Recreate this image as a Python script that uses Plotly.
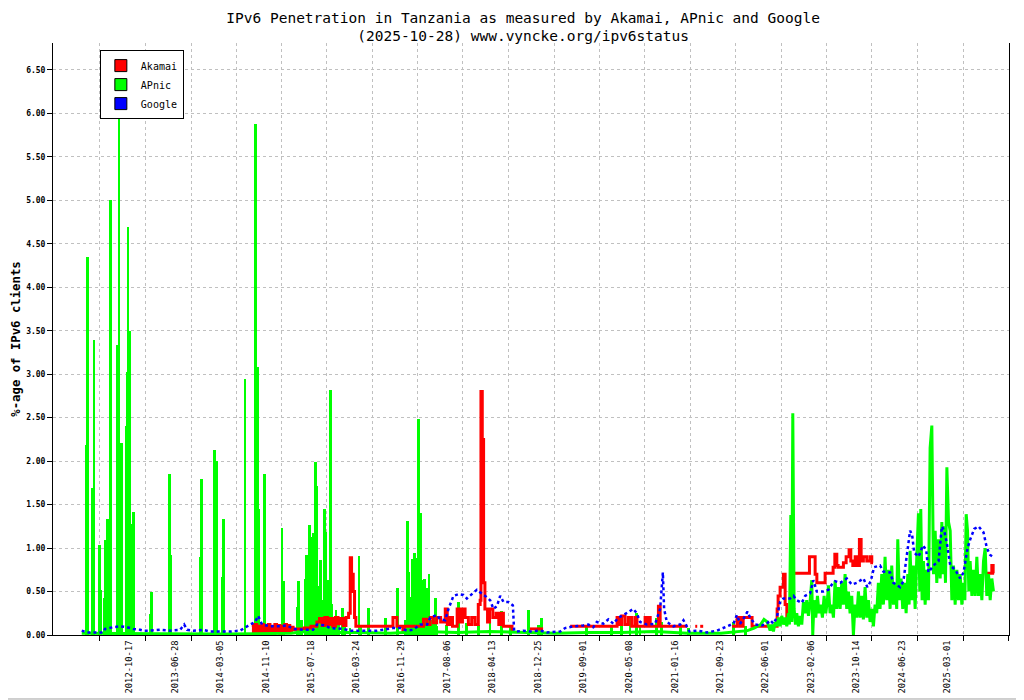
'''
IPv6 penetration in Tanzania: Akamai, APnic and Google
'''

import plotly.graph_objects as go
import pandas as pd

# Dates are kept as decimal years, converted below
akamai_years = [2014.405, 2014.43, 2014.455, 2014.48, 2014.505, 2014.53, 2014.555, 2014.58, 2014.605, 2014.63,
                2014.655, 2014.68, 2014.705, 2014.73, 2014.755, 2014.78, 2014.805, 2014.83, 2014.855, 2014.88,
                2014.905, 2014.93, 2014.955, 2014.98, 2015.005, 2015.03, 2015.05, 2015.2, 2015.3, 2015.39,
                2015.43, 2015.47, 2015.51, 2015.55, 2015.59, 2015.63, 2015.67, 2015.71, 2015.75, 2015.79,
                2015.83, 2015.87, 2015.895, 2015.915, 2015.94, 2015.96, 2015.98, 2016.54, 2016.6, 2016.69,
                2016.71, 2017.0, 2017.05, 2017.1, 2017.15, 2017.2, 2017.26, 2017.33, 2017.36, 2017.40,
                2017.44, 2017.51, 2017.55, 2017.59, 2017.63, 2017.68, 2017.73, 2017.78, 2017.83, 2017.858,
                2017.87, 2017.89, 2017.91, 2017.93, 2017.97, 2018.0, 2018.05, 2018.10, 2018.14, 2018.17,
                2018.21, 2018.34, 2018.357, 2018.36, 2018.61, 2018.81, 2018.82, 2019.22, 2019.93, 2019.97,
                2020.0, 2020.05, 2020.1, 2020.15, 2020.2, 2020.23, 2020.353, 2020.383, 2020.398, 2020.43,
                2020.554, 2020.58, 2020.99, 2021.0, 2021.11, 2021.14, 2021.15, 2021.185, 2021.23, 2021.24,
                2021.668, 2021.744, 2021.79, 2021.835, 2021.97, 2022.349, 2022.364, 2022.394, 2022.444, 2022.47,
                2022.496, 2022.546, 2022.561, 2022.58, 2022.596, 2022.838, 2022.924, 2022.95, 2023.075, 2023.196,
                2023.222, 2023.252, 2023.272, 2023.352, 2023.393, 2023.438, 2023.464, 2023.494, 2023.53, 2023.564,
                2023.594, 2023.62, 2023.654, 2023.706, 2023.756, 2023.781, 2023.80, 2023.81, 2025.52, 2025.595,
                2025.615, 2025.63]
akamai_vals = [0.11, 0.03, 0.12, 0.02, 0.10, 0.04, 0.12, 0.02, 0.11, 0.03,
               0.12, 0.05, 0.10, 0.02, 0.12, 0.03, 0.11, 0.02, 0.10, 0.04,
               0.12, 0.03, 0.11, 0.05, 0.09, 0.06, 0.07, 0.08, 0.10, 0.15,
               0.19, 0.11, 0.20, 0.12, 0.19, 0.10, 0.20, 0.13, 0.19, 0.11,
               0.20, 0.25, 0.89, 0.70, 0.50, 0.20, 0.10, 0.20, 0.10, 0.03,
               0.10, 0.18, 0.12, 0.20, 0.14, 0.20, 0.15, 0.30, 0.12, 0.20,
               0.10, 0.30, 0.15, 0.30, 0.20, 0.12, 0.20, 0.12, 0.35, 0.40,
               2.80, 2.25, 0.60, 0.30, 0.15, 0.30, 0.20, 0.25, 0.12, 0.25,
               0.10, 0.05, 0.05, None, 0.07, 0.07, None, 0.10, 0.20, 0.12,
               0.22, 0.12, 0.20, 0.10, 0.20, 0.10, 0.20, 0.10, 0.20, 0.10,
               0.33, 0.10, 0.10, None, 0.10, 0.10, None, 0.10, 0.10, None,
               0.10, 0.20, 0.10, 0.20, 0.10, 0.30, 0.45, 0.55, 0.70, 0.35,
               0.20, 0.25, 0.75, 0.80, 0.71, 0.90, 0.70, 0.60, 0.71, 0.78,
               0.93, 0.80, 0.78, 0.83, 0.90, 0.98, 0.85, 0.80, 0.90, 0.80,
               1.10, 0.85, 0.90, 0.85, 0.90, 0.83, 0.83, None, 0.71, 0.80,
               0.71, 0.71]

# APnic: isolated daily spikes (2011-2021)
apnic_spike_years = [2011.910, 2011.926, 2012.001, 2012.021, 2012.101, 2012.127, 2012.177, 2012.198, 2012.228, 2012.248,
                     2012.273, 2012.379, 2012.399, 2012.419, 2012.440, 2012.505, 2012.520, 2012.535, 2012.555, 2012.570,
                     2012.591, 2012.611, 2012.878, 2012.893, 2013.155, 2013.175, 2013.624, 2013.639, 2013.846, 2013.870,
                     2013.967, 2013.982, 2014.304, 2014.466, 2014.490, 2014.516, 2014.602, 2014.864, 2014.884, 2015.095,
                     2015.116, 2015.161, 2015.212, 2015.237, 2015.262, 2015.277, 2015.297, 2015.317, 2015.338, 2015.358,
                     2015.373, 2015.388, 2015.408, 2015.428, 2015.448, 2015.469, 2015.489, 2015.509, 2015.529, 2015.549,
                     2015.569, 2015.600, 2015.620, 2015.640, 2015.680, 2015.716, 2015.781, 2015.816, 2015.892, 2016.028,
                     2016.053, 2016.169, 2016.431, 2016.613, 2016.724, 2016.764, 2016.784, 2016.810, 2016.830, 2016.850,
                     2016.870, 2016.890, 2016.910, 2016.930, 2016.951, 2016.971, 2016.991, 2017.011, 2017.041, 2017.062,
                     2017.082, 2017.102, 2017.142, 2017.177, 2017.203, 2017.354, 2017.530, 2017.656, 2017.833, 2018.009,
                     2018.176, 2018.312, 2018.589, 2018.740, 2018.790, 2019.471, 2019.849, 2020.000, 2020.126, 2020.227,
                     2020.277, 2020.529, 2020.605, 2020.882, 2021.008, 2021.689, 2021.865]
apnic_spike_vals = [2.18, 4.35, 1.69, 3.39, 1.03, 0.52, 0.43, 1.09, 1.34, 0.75,
                    5.00, 3.34, 5.99, 1.11, 2.21, 2.40, 3.02, 4.69, 3.50, 1.28,
                    0.70, 1.42, 0.24, 0.49, 1.85, 0.92, 0.90, 1.80, 2.13, 2.00,
                    0.67, 1.33, 2.95, 5.88, 3.08, 1.45, 1.85, 1.23, 0.62, 0.32,
                    0.62, 0.17, 0.64, 0.92, 0.79, 1.27, 1.13, 1.02, 1.17, 1.13,
                    1.99, 1.71, 0.56, 0.48, 0.86, 0.40, 0.21, 1.45, 1.19, 0.63,
                    0.33, 2.82, 0.36, 0.17, 0.29, 0.12, 0.31, 0.10, 0.08, 0.91,
                    0.10, 0.31, 0.19, 0.54, 0.17, 1.31, 0.72, 0.44, 0.88, 0.63,
                    0.94, 0.89, 0.40, 2.48, 1.40, 0.63, 0.44, 0.64, 0.54, 0.33,
                    0.70, 0.17, 0.13, 0.42, 0.10, 0.12, 0.38, 0.14, 0.12, 0.18,
                    0.28, 0.12, 0.29, 0.12, 0.20, 0.10, 0.10, 0.15, 0.20, 0.25,
                    0.12, 0.20, 0.15, 0.10, 0.08, 0.15, 0.10]

# APnic: daily level (baseline, then the dense 2022-2025 band)
apnic_years = [2011.835, 2012.3, 2013.0, 2014.0, 2015.0, 2015.2, 2015.6, 2016.0, 2016.5, 2017.0,
               2017.5, 2018.0, 2018.5, 2019.0, 2019.5, 2020.0, 2020.5, 2021.0, 2021.5, 2021.8,
               2021.9, 2022.0, 2022.1, 2022.15, 2022.2,
               2022.243, 2022.268, 2022.293, 2022.319, 2022.344, 2022.369, 2022.394, 2022.419, 2022.445, 2022.470,
               2022.495, 2022.520, 2022.535, 2022.556, 2022.571, 2022.586, 2022.606, 2022.626, 2022.646, 2022.671,
               2022.697, 2022.722, 2022.747, 2022.772, 2022.797, 2022.823, 2022.848, 2022.873, 2022.888, 2022.908,
               2022.934, 2022.959, 2022.984, 2023.009, 2023.034, 2023.060, 2023.085, 2023.110, 2023.125, 2023.150,
               2023.176, 2023.201, 2023.226, 2023.251, 2023.276, 2023.302, 2023.327, 2023.352, 2023.377, 2023.402,
               2023.428, 2023.453, 2023.478, 2023.503, 2023.528, 2023.554, 2023.579, 2023.604, 2023.629, 2023.654,
               2023.680, 2023.705, 2023.730, 2023.755, 2023.780, 2023.806, 2023.831, 2023.856, 2023.881, 2023.906,
               2023.932, 2023.957, 2023.982, 2024.007, 2024.032, 2024.058, 2024.083, 2024.108, 2024.133, 2024.158,
               2024.174, 2024.199, 2024.224, 2024.249, 2024.274, 2024.300, 2024.325, 2024.345, 2024.360, 2024.385,
               2024.410, 2024.436, 2024.461, 2024.486, 2024.506, 2024.521, 2024.541, 2024.562, 2024.587, 2024.612,
               2024.637, 2024.662, 2024.688, 2024.713, 2024.738, 2024.763, 2024.788, 2024.814, 2024.839, 2024.854,
               2024.874, 2024.894, 2024.915, 2024.940, 2024.965, 2024.990, 2025.015, 2025.040, 2025.066, 2025.091,
               2025.116, 2025.141, 2025.167, 2025.187, 2025.207, 2025.227, 2025.247, 2025.267, 2025.293, 2025.318,
               2025.343, 2025.368, 2025.393, 2025.419, 2025.444, 2025.469, 2025.494, 2025.519, 2025.545, 2025.570,
               2025.595, 2025.620]
apnic_vals = [0.02, 0.015, 0.015, 0.012, 0.02, 0.04, 0.03, 0.03, 0.02, 0.04,
              0.03, 0.04, 0.03, 0.02, 0.03, 0.03, 0.04, 0.02, 0.02, 0.04,
              0.05, 0.08, 0.12, 0.18, 0.15,
              0.05, 0.12, 0.04, 0.15, 0.10, 0.20, 0.10, 0.22, 0.12, 0.20,
              0.10, 0.25, 0.12, 1.38, 0.15, 2.55, 0.30, 0.12, 0.25, 0.10,
              0.22, 0.12, 0.38, 0.25, 0.40, 0.22, 0.38, 0.63, 0.00, 0.40,
              0.20, 0.45, 0.25, 0.35, 0.20, 0.45, 0.25, 0.40, 0.57, 0.25,
              0.35, 0.20, 0.62, 0.30, 0.55, 0.30, 0.60, 0.35, 0.70, 0.30,
              0.50, 0.25, 0.45, 0.00, 0.35, 0.20, 0.50, 0.20, 0.45, 0.18,
              0.55, 0.20, 0.40, 0.15, 0.30, 0.10, 0.35, 0.25, 0.60, 0.30,
              0.70, 0.35, 0.90, 0.40, 0.75, 0.30, 0.80, 0.35, 0.60, 0.30,
              1.10, 0.40, 0.65, 0.30, 0.60, 0.25, 0.70, 0.35, 0.97, 0.40,
              0.80, 0.30, 0.90, 1.40, 0.50, 1.45, 0.40, 0.85, 0.35, 0.75,
              0.40, 2.15, 2.41, 0.70, 1.20, 0.60, 1.10, 0.65, 1.30, 0.70,
              1.25, 0.60, 1.93, 1.30, 1.20, 0.40, 0.80, 0.35, 0.75, 0.40,
              0.70, 0.35, 0.60, 0.40, 1.39, 1.20, 0.50, 0.85, 0.45, 0.75,
              0.45, 0.90, 0.45, 0.70, 0.40, 0.85, 1.00, 0.45, 0.70, 0.40,
              0.65, 0.50]

google_years = [2011.835, 2011.910, 2012.157, 2012.187, 2012.308, 2012.414, 2012.515, 2012.611, 2012.716, 2012.762,
                2012.868, 2013.019, 2013.170, 2013.321, 2013.382, 2013.427, 2013.518, 2013.669, 2013.775, 2014.077,
                2014.229, 2014.304, 2014.380, 2014.455, 2014.501, 2014.561, 2014.682, 2014.834, 2014.940, 2015.030,
                2015.181, 2015.332, 2015.393, 2015.514, 2015.590, 2015.786, 2015.892, 2016.043, 2016.300, 2016.542,
                2016.648, 2016.754, 2016.845, 2016.951, 2017.056, 2017.102, 2017.203, 2017.253, 2017.329, 2017.379,
                2017.415, 2017.454, 2017.530, 2017.606, 2017.657, 2017.733, 2017.808, 2017.858, 2017.934, 2018.009,
                2018.059, 2018.111, 2018.161, 2018.211, 2018.286, 2018.353, 2018.372, 2018.413, 2018.513, 2018.614,
                2018.740, 2018.765, 2018.867, 2019.068, 2019.143, 2019.269, 2019.420, 2019.496, 2019.571, 2019.623,
                2019.723, 2019.798, 2019.874, 2019.950, 2020.025, 2020.101, 2020.176, 2020.228, 2020.277, 2020.379,
                2020.505, 2020.580, 2020.621, 2020.640, 2020.681, 2020.781, 2020.882, 2020.932, 2020.984, 2021.023,
                2021.135, 2021.286, 2021.437, 2021.537, 2021.613, 2021.688, 2021.740, 2021.789, 2021.850, 2021.900,
                2021.941, 2022.016, 2022.117, 2022.193, 2022.243, 2022.293, 2022.344, 2022.394, 2022.444, 2022.546,
                2022.596, 2022.647, 2022.722, 2022.772, 2022.848, 2022.898, 2022.950, 2023.049, 2023.125, 2023.176,
                2023.226, 2023.302, 2023.403, 2023.479, 2023.554, 2023.654, 2023.715, 2023.766, 2023.816, 2023.906,
                2023.957, 2024.058, 2024.108, 2024.209, 2024.259, 2024.310, 2024.360, 2024.391, 2024.421, 2024.486,
                2024.553, 2024.603, 2024.637, 2024.713, 2024.789, 2024.840, 2024.875, 2024.916, 2024.966, 2025.041,
                2025.117, 2025.167, 2025.228, 2025.268, 2025.328, 2025.393, 2025.469, 2025.520, 2025.570, 2025.610]
google_vals = [0.05, 0.03, 0.03, 0.07, 0.09, 0.10, 0.09, 0.07, 0.06, 0.05,
               0.05, 0.06, 0.05, 0.06, 0.12, 0.06, 0.05, 0.06, 0.04, 0.04,
               0.05, 0.09, 0.12, 0.15, 0.22, 0.12, 0.10, 0.10, 0.11, 0.07,
               0.06, 0.06, 0.12, 0.11, 0.08, 0.07, 0.05, 0.05, 0.05, 0.08,
               0.08, 0.05, 0.06, 0.12, 0.12, 0.20, 0.23, 0.18, 0.17, 0.30,
               0.38, 0.45, 0.47, 0.46, 0.42, 0.47, 0.52, 0.49, 0.45, 0.40,
               0.30, 0.33, 0.45, 0.38, 0.38, 0.34, 0.05, 0.04, 0.05, 0.04,
               0.05, 0.05, 0.03, 0.04, 0.08, 0.10, 0.11, 0.12, 0.09, 0.15,
               0.13, 0.18, 0.13, 0.20, 0.23, 0.27, 0.30, 0.25, 0.15, 0.12,
               0.13, 0.30, 0.72, 0.30, 0.15, 0.10, 0.12, 0.17, 0.10, 0.04,
               0.05, 0.03, 0.05, 0.08, 0.10, 0.13, 0.23, 0.13, 0.20, 0.27,
               0.20, 0.12, 0.11, 0.13, 0.17, 0.13, 0.20, 0.38, 0.42, 0.42,
               0.45, 0.40, 0.37, 0.45, 0.48, 0.63, 0.50, 0.50, 0.52, 0.58,
               0.62, 0.60, 0.65, 0.58, 0.60, 0.65, 0.55, 0.62, 0.78, 0.80,
               0.73, 0.72, 0.60, 0.55, 0.62, 0.90, 1.20, 1.15, 0.95, 0.90,
               1.03, 0.98, 0.72, 0.80, 0.85, 1.25, 1.20, 1.05, 0.80, 0.75,
               0.65, 0.72, 1.00, 1.10, 1.22, 1.25, 1.18, 1.00, 0.92, 0.90]

tick_dates = ["2012-02-10", "2012-10-17", "2013-06-28", "2014-03-05", "2014-11-10", "2015-07-18", "2016-03-24",
              "2016-11-29", "2017-08-06", "2018-04-13", "2018-12-25", "2019-09-01", "2020-05-08", "2021-01-16",
              "2021-09-23", "2022-06-01", "2023-02-06", "2023-10-14", "2024-06-23", "2025-03-01", "2025-11-06"]
tick_text = [""] + tick_dates[1:-1] + [""]
y_ticks = [0.0, 0.5, 1.0, 1.5, 2.0, 2.5, 3.0, 3.5, 4.0, 4.5, 5.0, 5.5, 6.0, 6.5]


def to_date(y):
    yr = int(y)
    start = pd.Timestamp(yr, 1, 1)
    return start + (pd.Timestamp(yr + 1, 1, 1) - start) * (y - yr)


MONO = "DejaVu Sans Mono"
RED, GREEN, BLUE = "#ff0000", "#00ff00", "#0000ff"

fig = go.Figure()

fig.add_trace(go.Scatter(
    x=[to_date(v) for v in akamai_years], y=akamai_vals, mode="lines",
    line=dict(color=RED, width=3, shape="hv"), showlegend=False, legendgroup="akamai",
    hovertemplate="Akamai %{x|%Y-%m-%d}: %{y:.2f}%<extra></extra>"))

fig.add_trace(go.Bar(
    x=[to_date(v) for v in apnic_spike_years], y=apnic_spike_vals,
    width=15 * 86400000, marker=dict(color=GREEN, line_width=0), showlegend=False,
    legendgroup="apnic", hovertemplate="APnic %{x|%Y-%m-%d}: %{y:.2f}%<extra></extra>"))

fig.add_trace(go.Scatter(
    x=[to_date(v) for v in apnic_years], y=apnic_vals, mode="lines",
    line=dict(color=GREEN, width=3), showlegend=False, legendgroup="apnic",
    hovertemplate="APnic %{x|%Y-%m-%d}: %{y:.2f}%<extra></extra>"))

fig.add_trace(go.Scatter(
    x=[to_date(v) for v in google_years], y=google_vals, mode="lines",
    line=dict(color=BLUE, width=2.5, dash="dot"), showlegend=False, legendgroup="google",
    hovertemplate="Google %{x|%Y-%m-%d}: %{y:.2f}%<extra></extra>"))

# legend swatches (boxes like the original)
for name, col, grp in [("Akamai", RED, "akamai"), ("APnic", GREEN, "apnic"), ("Google", BLUE, "google")]:
    fig.add_trace(go.Bar(x=[None], y=[None], name=name, legendgroup=grp,
                         marker=dict(color=col, line=dict(color="black", width=1))))

fig.update_layout(
    width=1016, height=692,
    paper_bgcolor="white", plot_bgcolor="white",
    barmode="overlay", bargap=0,
    margin=dict(l=45, r=15, t=35, b=65, autoexpand=False),
    font=dict(family=MONO, color="black"),
    title=dict(text="IPv6 Penetration in Tanzania as measured by Akamai, APnic and Google<br>"
                    "(2025-10-28) www.vyncke.org/ipv6status",
               x=0.507, xanchor="center", y=0.979, yanchor="middle",
               font=dict(family=MONO, size=14.5, color="black")),
    legend=dict(x=0.049, y=0.988, xanchor="left", yanchor="top",
                bgcolor="white", bordercolor="black", borderwidth=1,
                font=dict(family=MONO, size=10), traceorder="normal",
                itemwidth=30, tracegroupgap=0),
    xaxis=dict(type="date", range=["2011-05-27", "2025-11-09"],
               tickvals=tick_dates, ticktext=tick_text, tickangle=-90,
               ticklabelshift=-16, ticklabelstandoff=-4,
               ticks="outside", ticklen=5, tickcolor="black",
               tickfont=dict(family=MONO, size=8.8, color="black"),
               showgrid=True, gridcolor="#c0c0c0", griddash="dot", gridwidth=1,
               showline=True, linecolor="black", linewidth=1, zeroline=False,
               automargin=False),
    yaxis=dict(range=[0, 6.81], tickvals=y_ticks, tickformat=".2f",
               ticks="outside", ticklen=5, tickcolor="black",
               tickfont=dict(family=MONO, size=8, color="black", weight="bold"),
               showgrid=True, gridcolor="#c0c0c0", griddash="dot", gridwidth=1,
               showline=True, mirror=True, linecolor="black", linewidth=1, zeroline=False,
               title=dict(text="%-age of IPv6 clients", standoff=2,
                          font=dict(family=MONO, size=12.3, color="black", weight="bold")),
               automargin=False),
    shapes=[dict(type="line", xref="paper", yref="paper", x0=1.0131, x1=1.0131, y0=-0.1081, y1=1.0591,
                 line=dict(color="#a0a0a0", width=1), layer="below"),
            dict(type="line", xref="paper", yref="paper", x0=-0.0471, x1=1.0131, y0=-0.1081, y1=-0.1081,
                 line=dict(color="#a0a0a0", width=1), layer="below")],
)

fig.write_html("out.html")
